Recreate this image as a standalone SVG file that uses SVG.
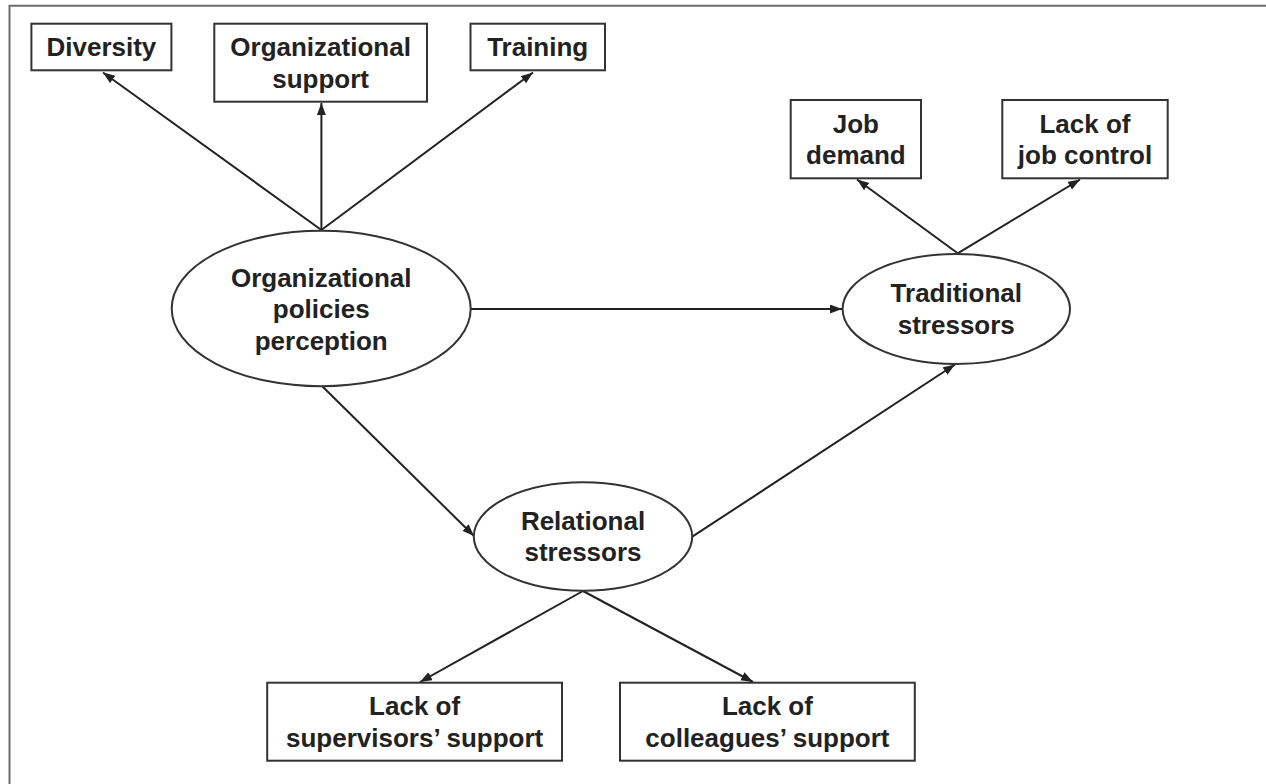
<svg xmlns="http://www.w3.org/2000/svg" width="1266" height="784" viewBox="0 0 1266 784">
<defs>
<marker id="ah" markerUnits="userSpaceOnUse" markerWidth="13" markerHeight="10" refX="12" refY="4.5" orient="auto">
<path d="M0,0 L12,4.5 L0,9 z" fill="#222"/>
</marker>
<style>
.box{fill:#fff;stroke:#333;stroke-width:2}
.ell{fill:#fff;stroke:#333;stroke-width:2}
.t{font-family:"Liberation Sans",Arial,Helvetica,sans-serif;font-weight:bold;font-size:26px;fill:#222;text-anchor:middle}
.c{stroke:#222;stroke-width:2;fill:none;marker-end:url(#ah)}
</style>
</defs>
<rect width="1266" height="784" fill="#fff"/>
<path d="M9.5,784 V5.7 H1266" fill="none" stroke="#6b6b6b" stroke-width="2"/>
<g id="connectors">
<line class="c" x1="321.4" y1="230" x2="103" y2="72.5"/>
<line class="c" x1="321.4" y1="230" x2="321.4" y2="103"/>
<line class="c" x1="321.4" y1="230" x2="533" y2="72.5"/>
<line class="c" x1="471" y1="309" x2="842" y2="309"/>
<line class="c" x1="322.5" y1="386.5" x2="474" y2="536"/>
<line class="c" x1="692.3" y1="536.7" x2="955" y2="364.5"/>
<line class="c" x1="957.7" y1="253.3" x2="857" y2="179.5"/>
<line class="c" x1="957.7" y1="253.3" x2="1080" y2="179.5"/>
<line class="c" x1="583" y1="591" x2="420" y2="682"/>
<line class="c" x1="583" y1="591" x2="753" y2="682"/>
</g>
<g id="diversity">
<rect class="box" x="31.4" y="23.7" width="140" height="46.6"/>
<text class="t" x="101.4" y="56.3">Diversity</text>
</g>
<g id="org-support">
<rect class="box" x="214.3" y="23.7" width="212.7" height="78"/>
<text class="t" x="320.6" y="56.2">Organizational</text>
<text class="t" x="320.6" y="87.8">support</text>
</g>
<g id="training">
<rect class="box" x="470.5" y="23.7" width="134.5" height="46.6"/>
<text class="t" x="537.7" y="56.3">Training</text>
</g>
<g id="org-policies">
<ellipse class="ell" cx="321.2" cy="308.5" rx="149.5" ry="77.8"/>
<text class="t" x="321.2" y="286.7">Organizational</text>
<text class="t" x="321.2" y="318.3">policies</text>
<text class="t" x="321.2" y="349.9">perception</text>
</g>
<g id="traditional">
<ellipse class="ell" cx="956.3" cy="309" rx="113.7" ry="55"/>
<text class="t" x="956.3" y="302.3">Traditional</text>
<text class="t" x="956.3" y="333.9">stressors</text>
</g>
<g id="job-demand">
<rect class="box" x="790.7" y="100" width="130.3" height="78.3"/>
<text class="t" x="855.9" y="132.7">Job</text>
<text class="t" x="855.9" y="164.3">demand</text>
</g>
<g id="job-control">
<rect class="box" x="1002.3" y="100" width="165.4" height="78.3"/>
<text class="t" x="1085" y="132.7">Lack of</text>
<text class="t" x="1085" y="164.3">job control</text>
</g>
<g id="relational">
<ellipse class="ell" cx="583" cy="536.5" rx="109.2" ry="54.2"/>
<text class="t" x="583" y="529.7">Relational</text>
<text class="t" x="583" y="561.3">stressors</text>
</g>
<g id="supervisors">
<rect class="box" x="267.2" y="682.7" width="294.8" height="78"/>
<text class="t" x="414.6" y="715.2">Lack of</text>
<text class="t" x="414.6" y="746.8">supervisors’ support</text>
</g>
<g id="colleagues">
<rect class="box" x="620" y="682.7" width="294.8" height="78"/>
<text class="t" x="767.4" y="715.2">Lack of</text>
<text class="t" x="767.4" y="746.8">colleagues’ support</text>
</g>
</svg>
